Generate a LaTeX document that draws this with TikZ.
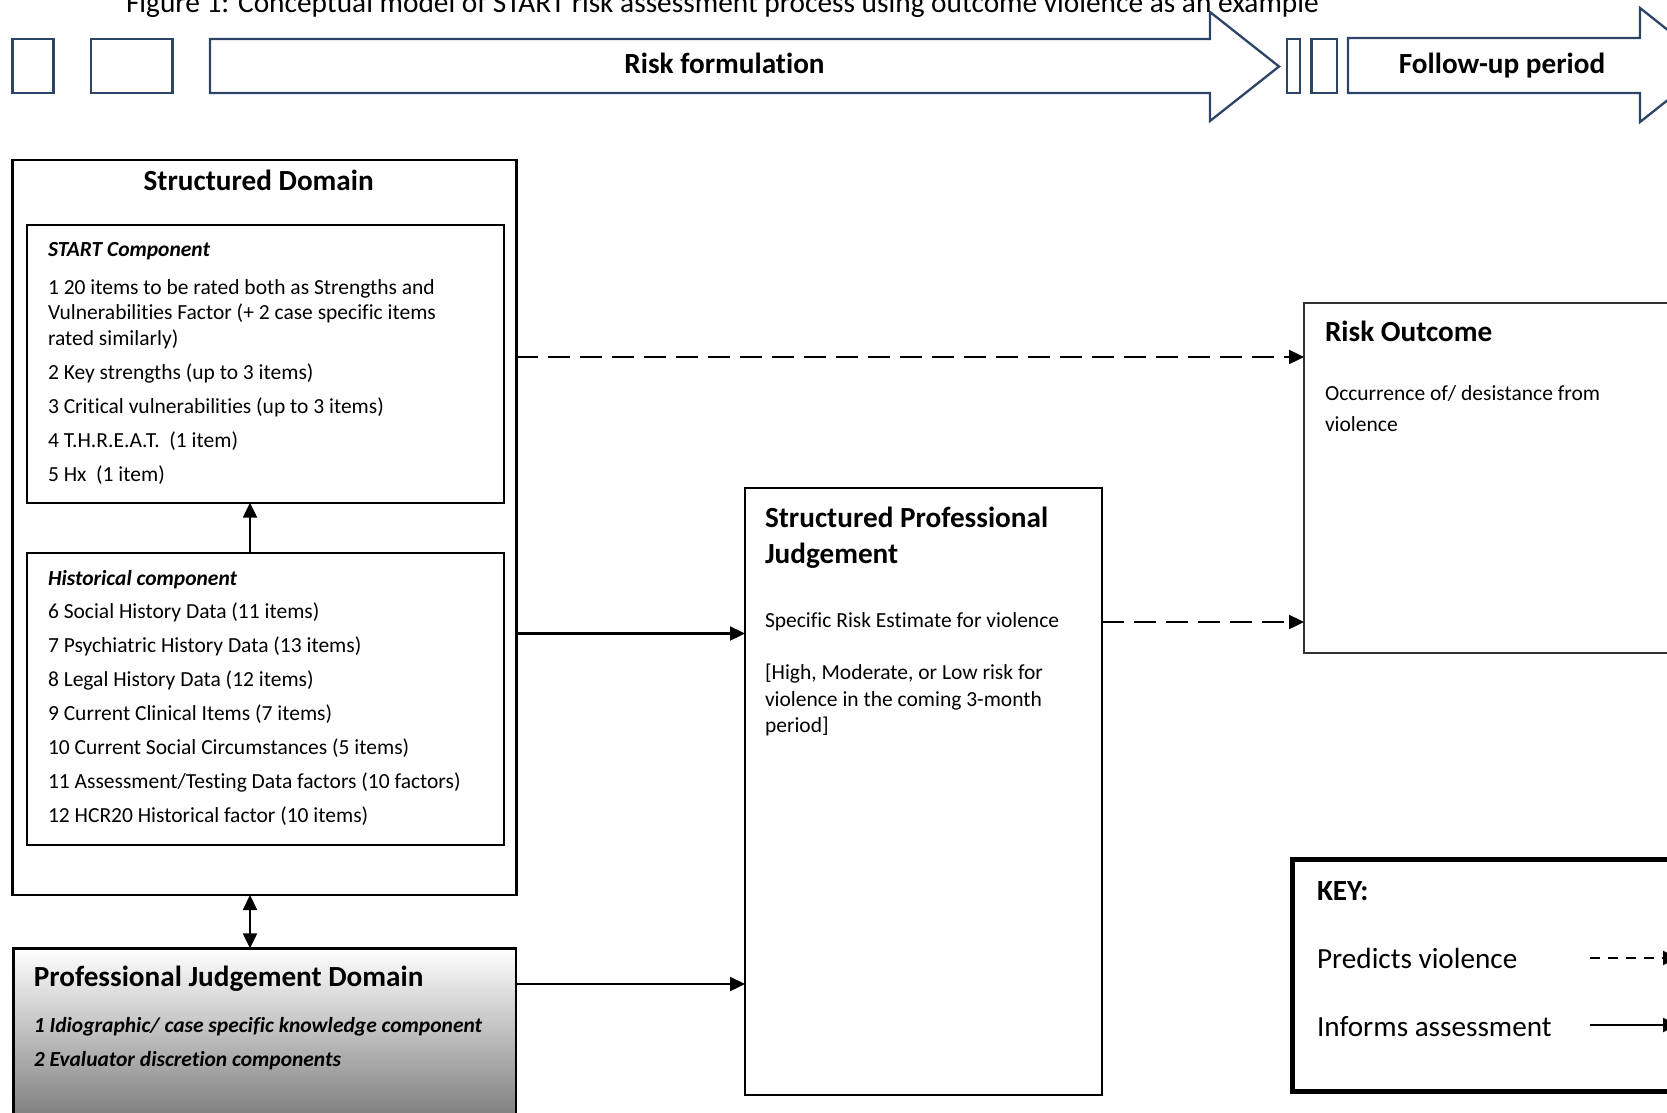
\documentclass[tikz,border=0pt]{standalone}
\usepackage{fontspec}
\setmainfont{Carlito}[Ligatures=NoCommon]
\usepackage{xcolor}
\usepackage{tikz}
\usetikzlibrary{arrows.meta, positioning, calc}
\definecolor{bandblue}{RGB}{44,68,102}
\definecolor{outgray}{RGB}{50,50,50}
\newcommand{\hdfont}{\fontsize{29.2}{36.5}\selectfont}
\newcommand{\bdfont}{\fontsize{21.5}{25.5}\selectfont}

\begin{document}
\begin{tikzpicture}[x=1pt, y=-1pt, >={Triangle[length=15pt, width=14pt]},
      every node/.style={inner sep=0pt, outer sep=0pt,
                         execute at begin node={\spaceskip=0pt\xspaceskip=0pt}},
      domainbox/.style={draw, line width=2.7pt, anchor=north west},
      compbox/.style={draw, line width=2pt, anchor=north west},
      outbox/.style={draw=outgray, line width=2pt, anchor=north west},
      keybox/.style={draw, line width=5.5pt, anchor=north west},
      band/.style={draw=bandblue, line width=2.3pt, line join=miter},
      head/.style={font=\hdfont\bfseries, anchor=base west},
      body/.style={font=\bdfont, anchor=base west, text width=470pt},
      informs/.style={->, line width=2.3pt},
      predicts/.style={->, line width=2.3pt, dash pattern=on 22pt off 10pt}]

    \useasboundingbox (0,0) rectangle (1667,1113);

    \node[font=\fontsize{29.35}{36.5}\selectfont, anchor=base west] (title) at (126,13)
      {Figure 1: Conceptual model of START risk assessment process using outcome violence as an example};

    \draw[band] (12.5,39) rectangle (53.5,93);
    \draw[band] (91,39) rectangle (172.5,93);
    \draw[band] (210,39) -- (1210,39) -- (1210,12) -- (1279,66.5) -- (1210,121) -- (1210,93) -- (210,93) -- cycle;
    \draw[band] (1287,39) rectangle (1300,93);
    \draw[band] (1311.5,39) rectangle (1337,93);
    \draw[band] (1348,38) -- (1640,38) -- (1640,8) -- (1712,65) -- (1640,122) -- (1640,93) -- (1348,93) -- cycle;
    \node[font=\hdfont\bfseries, anchor=base] (formLabel) at (724.5,73.4) {Risk formulation};
    \node[font=\hdfont\bfseries, anchor=base] (followLabel) at (1502,73.4) {Follow-up period};

    \node[domainbox, minimum width=503.4pt, minimum height=735pt] (sdom) at (12.8,160) {};
    \node[font=\hdfont\bfseries, anchor=base] (sdomTitle) at (258.7,190) {Structured Domain};

    \node[compbox, minimum width=476.7pt, minimum height=277.7pt] (start) at (27,225) {};
    \node[body, font=\bdfont\bfseries\itshape] (startTitle) at (48,256) {START Component};
    \node[body] (startItems) at (48,294)
      {1 20 items to be rated both as Strengths and\\
       Vulnerabilities Factor (+ 2 case specific items\\
       rated similarly)\\[9pt]
       2 Key strengths (up to 3 items)\\[8.6pt]
       3 Critical vulnerabilities (up to 3 items)\\[8.6pt]
       4 T.H.R.E.A.T.\ \ (1 item)\\[8.6pt]
       5 Hx\ \ (1 item)};

    \node[compbox, minimum width=476.7pt, minimum height=291.7pt] (hist) at (27,553.3) {};
    \node[body, font=\bdfont\bfseries\itshape] (histTitle) at (48,585) {Historical component};
    \node[body] (histItems) at (48,618.3)
      {6 Social History Data (11 items)\\[8.6pt]
       7 Psychiatric History Data (13 items)\\[8.6pt]
       8 Legal History Data (12 items)\\[8.6pt]
       9 Current Clinical Items (7 items)\\[8.6pt]
       10 Current Social Circumstances (5 items)\\[8.6pt]
       11 Assessment/Testing Data factors (10 factors)\\[8.6pt]
       12 HCR20 Historical factor (10 items)};

    \node[domainbox, line width=2.5pt, minimum width=502.7pt, minimum height=185pt,
          top color=white, bottom color=black!55] (pjd) at (13.5,948.3) {};
    \node[head] (pjdTitle) at (33.8,986.7) {Professional Judgement Domain};
    \node[body, font=\bdfont\bfseries\itshape] (pjdItems) at (33.8,1032.5)
      {1 Idiographic/ case specific knowledge component\\[8.5pt]
       2 Evaluator discretion components};

    \node[compbox, minimum width=357pt, minimum height=606.7pt] (spj) at (745,488.3) {};
    \node[head, text width=330pt] (spjTitle) at (765,527)
      {Structured Professional\\Judgement};
    \node[body, font=\fontsize{21.5}{26.5}\selectfont, text width=330pt] (spjText) at (765,627)
      {Specific Risk Estimate for violence\\[26pt]
       [High, Moderate, or Low risk for\\
       violence in the coming 3-month\\
       period]};

    \node[outbox, minimum width=400pt, minimum height=350.5pt] (risk) at (1304,302.5) {};
    \node[head] (riskTitle) at (1325,341) {Risk Outcome};
    \node[body, font=\fontsize{21.5}{31}\selectfont, text width=330pt] (riskText) at (1325,400.5)
      {Occurrence of/ desistance from\\violence};

    \node[keybox, minimum width=420pt, minimum height=232.4pt] (key) at (1292.7,859.3) {};
    \node[head] (keyTitle) at (1317,900) {KEY:};
    \node[font=\hdfont, anchor=base west] (keyPred) at (1317,968) {Predicts violence};
    \node[font=\hdfont, anchor=base west] (keyInf) at (1317,1036) {Informs assessment};

    \coordinate (rowTop) at (0,357);
    \coordinate (rowHist) at (0,633.5);
    \coordinate (rowSpj) at (0,622);
    \coordinate (rowPjd) at (0,984);
    \coordinate (colArr) at (250,0);
    \coordinate (keyP1) at (1590,958);
    \coordinate (keyP2) at (1678,958);
    \coordinate (keyI1) at (1590,1025);
    \coordinate (keyI2) at (1678,1025);

    \draw[informs] (hist.north -| colArr) -- (start.south -| colArr);
    \draw[informs, <->] (sdom.south -| colArr) -- (pjd.north -| colArr);
    \draw[predicts] (sdom.east |- rowTop) -- (risk.west |- rowTop);
    \draw[informs] (sdom.east |- rowHist) -- (spj.west |- rowHist);
    \draw[informs] (pjd.east |- rowPjd) -- (spj.west |- rowPjd);
    \draw[predicts] (spj.east |- rowSpj) -- (risk.west |- rowSpj);
    \draw[predicts, line width=2pt, dash pattern=on 10pt off 8pt] (keyP1) -- (keyP2);
    \draw[informs, line width=2pt] (keyI1) -- (keyI2);
  \end{tikzpicture}
\end{document}
